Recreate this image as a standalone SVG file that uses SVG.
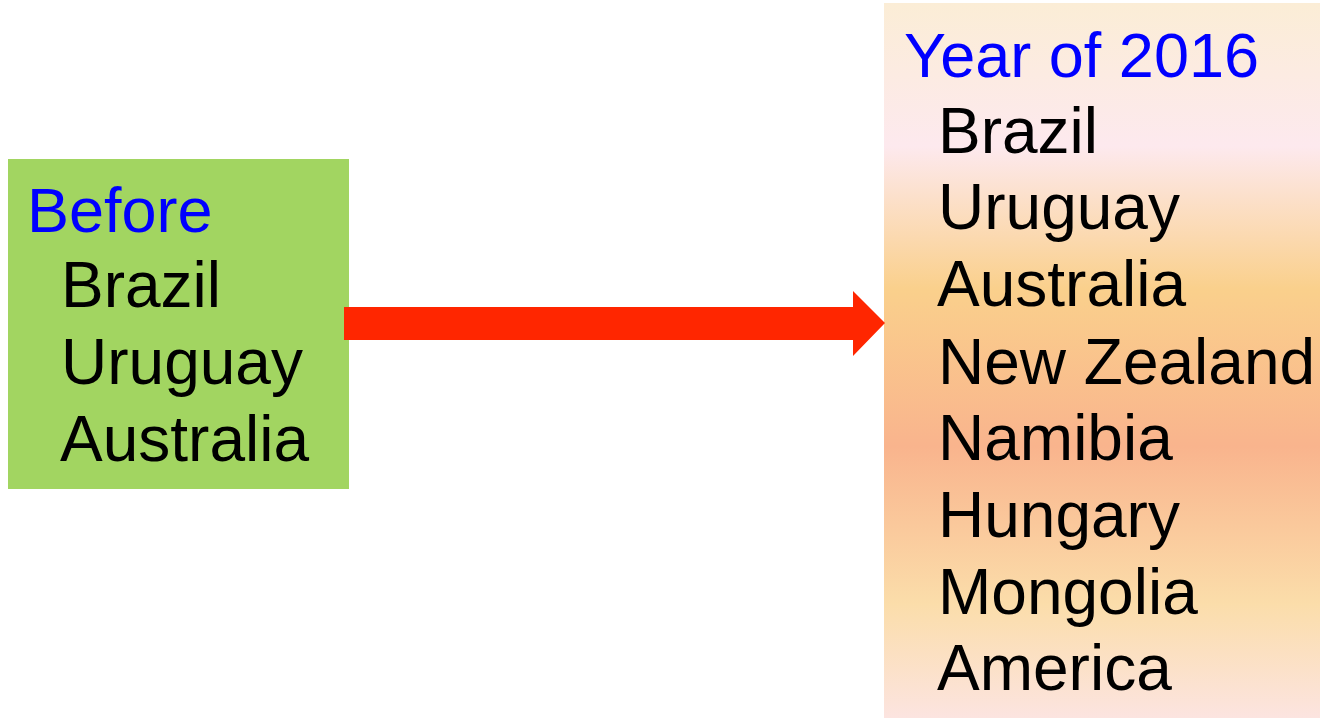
<svg xmlns="http://www.w3.org/2000/svg" width="1320" height="718" viewBox="0 0 1320 718">
<style>
text{font-family:"Liberation Sans",Arial,sans-serif;font-size:64px}
.t{fill:#0000FF;font-size:63px}
.i{fill:#000000}
</style>
<defs>
<linearGradient id="g" x1="0" y1="0" x2="0" y2="1">
<stop offset="0" stop-color="#FBEDD6"/>
<stop offset="0.2" stop-color="#FDE9EE"/>
<stop offset="0.4" stop-color="#FAD08C"/>
<stop offset="0.62" stop-color="#F9B48D"/>
<stop offset="0.84" stop-color="#FBDDAA"/>
<stop offset="1" stop-color="#FCE4E0"/>
</linearGradient>
</defs>
<rect width="1320" height="718" fill="#FFFFFF"/>
<g id="before">
<rect x="8" y="159" width="341" height="330" fill="#A2D561"/>
<text class="t" x="27" y="232">Before</text>
<text class="i" x="61" y="307">Brazil</text>
<text class="i" x="61" y="384">Uruguay</text>
<text class="i" x="60" y="461">Australia</text>
</g>
<g id="y2016">
<rect x="884" y="3" width="436" height="715" fill="url(#g)"/>
<text class="t" x="904" y="77">Year of 2016</text>
<text class="i" x="938" y="153">Brazil</text>
<text class="i" x="938" y="229">Uruguay</text>
<text class="i" x="937" y="306">Australia</text>
<text class="i" x="938" y="384">New Zealand</text>
<text class="i" x="938" y="460">Namibia</text>
<text class="i" x="938" y="537">Hungary</text>
<text class="i" x="938" y="614">Mongolia</text>
<text class="i" x="937" y="690">America</text>
</g>
<g id="connectors">
<polygon points="344,307 853,307 853,291 885,323 853,356 853,340 344,340" fill="#FF2600"/>
</g>
</svg>
